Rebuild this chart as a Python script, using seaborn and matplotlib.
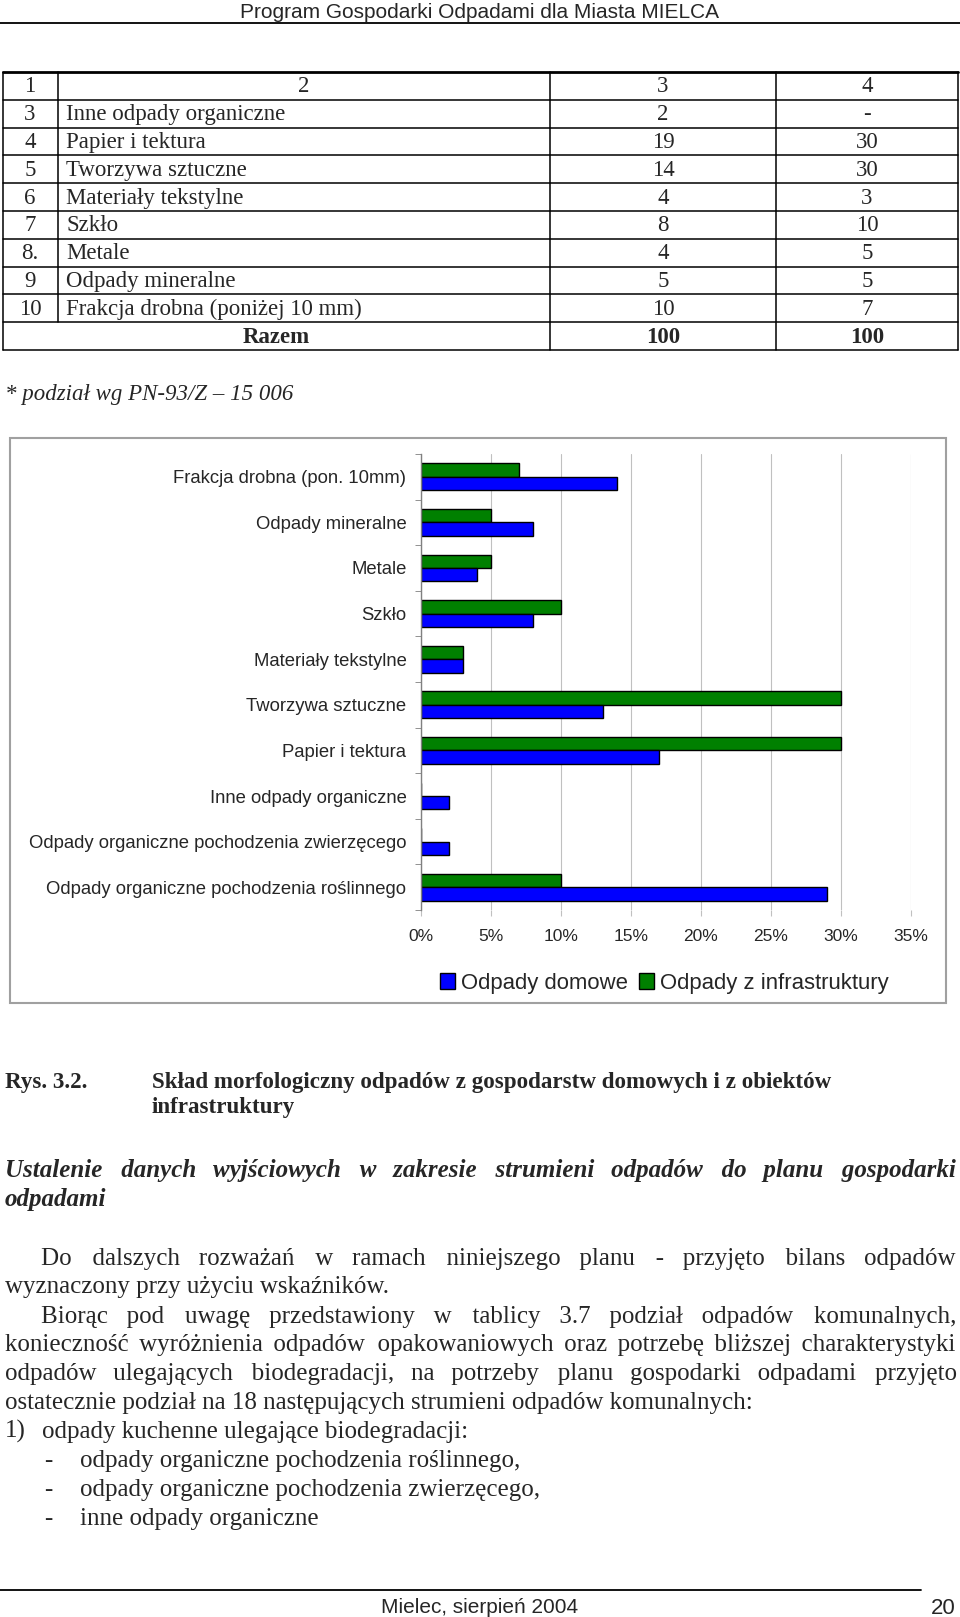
import numpy as np
import pandas as pd
import matplotlib
matplotlib.use("Agg")
import matplotlib.pyplot as plt
import seaborn as sns
from matplotlib.patches import Rectangle, Patch
from matplotlib.lines import Line2D

W, H = 960, 1617

# ------------------ CHART DATA ------------------
categories = [
    "Frakcja drobna (pon. 10mm)",
    "Odpady mineralne",
    "Metale",
    "Szkło",
    "Materiały tekstylne",
    "Tworzywa sztuczne",
    "Papier i tektura",
    "Inne odpady organiczne",
    "Odpady organiczne pochodzenia zwierzęcego",
    "Odpady organiczne pochodzenia roślinnego",
]
domowe = [14, 8, 4, 8, 3, 13, 17, 2, 2, 29]
infrastruktura = [7, 5, 5, 10, 3, 30, 30, 0, 0, 10]
series_names = ["Odpady domowe", "Odpady z infrastruktury"]
x_ticks = [0, 5, 10, 15, 20, 25, 30, 35]
x_tick_labels = ["0%", "5%", "10%", "15%", "20%", "25%", "30%", "35%"]

# ------------------ TABLE DATA ------------------
table_header = ["1", "2", "3", "4"]
table_lp = ["3", "4", "5", "6", "7", "8.", "9", "10"]
table_names = ["Inne odpady organiczne", "Papier i tektura", "Tworzywa sztuczne",
               "Materiały tekstylne", "Szkło", "Metale", "Odpady mineralne",
               "Frakcja drobna (poniżej 10 mm)"]
table_col3 = ["2", "19", "14", "4", "8", "4", "5", "10"]
table_col4 = ["-", "30", "30", "3", "10", "5", "5", "7"]
table_total = ["Razem", "100", "100"]

BLUE = "#0000ff"
GREEN = "#008000"
SERIF = ["Liberation Serif", "DejaVu Serif"]

sns.set_style("white")
plt.rcParams['font.family'] = ['Liberation Sans', 'DejaVu Sans']

fig = plt.figure(figsize=(W / 100, H / 100), dpi=100)
renderer = fig.canvas.get_renderer()


def fx(x):
    return x / W


def fy(y):
    return 1 - y / H


def txt(x, y, s, **kw):
    kw.setdefault('va', 'center_baseline')
    return fig.text(fx(x), fy(y), s, **kw)


def line(x0, x1, y0, y1, lw=1.0, color='black'):
    fig.add_artist(Line2D([fx(x0), fx(x1)], [fy(y0), fy(y1)], lw=lw,
                          color=color, transform=fig.transFigure))


def justify(s, x0, x1, y, **kw):
    # one text per line; gaps widened with spaces and hair spaces
    t = txt(x0, y, "", **kw)

    def width(u):
        t.set_text(u)
        return t.get_window_extent(renderer).width

    words = s.split()
    w_sp = width("a a") - width("aa")
    w_hs = max(width("a\u200aa") - width("aa"), 0.5)
    g = (x1 - x0 - sum(width(w) for w in words)) / (len(words) - 1)
    out, acc = words[0], 0.0
    for i, w in enumerate(words[1:], 1):
        need = g * i - acc
        ns = max(1, int(need // w_sp))
        nh = max(0, round((need - ns * w_sp) / w_hs))
        out += " " * ns + "\u200a" * nh + w
        acc += ns * w_sp + nh * w_hs
    t.set_text(out)


# ------------------ HEADER ------------------
txt(480, 11, "Program Gospodarki Odpadami dla Miasta MIELCA", ha='center', fontsize=15)
line(0, 960, 23, 23, lw=1.3)

# ------------------ TABLE ------------------
cols = [3, 58, 550, 776, 958]
t_top, pitch = 72, 27.8
n_rows = 2 + len(table_lp)
t_bot = t_top + pitch * n_rows
line(cols[0], cols[-1], t_top, t_top, lw=2)
for i in range(1, n_rows + 1):
    line(cols[0], cols[-1], t_top + pitch * i, t_top + pitch * i, lw=1.1)
for c in cols:
    if c == 58:
        line(c, c, t_top, t_bot - pitch, lw=1.1)
    else:
        line(c, c, t_top, t_bot, lw=1.1)

fs_t = 16.5
dy = -1.5
yc = t_top + pitch * 0.5 + dy
txt(30, yc, table_header[0], ha='center', family=SERIF, fontsize=fs_t)
txt(304, yc, table_header[1], ha='center', family=SERIF, fontsize=fs_t)
txt(663, yc, table_header[2], ha='center', family=SERIF, fontsize=fs_t)
txt(867, yc, table_header[3], ha='center', family=SERIF, fontsize=fs_t)
for i, (lp, name, c3, c4) in enumerate(zip(table_lp, table_names, table_col3, table_col4)):
    yc = t_top + pitch * (i + 1.5) + dy
    txt(30, yc, lp, ha='center', family=SERIF, fontsize=fs_t)
    txt(66, yc, name, ha='left', family=SERIF, fontsize=fs_t)
    txt(663, yc, c3, ha='center', family=SERIF, fontsize=fs_t)
    txt(867, yc, c4, ha='center', family=SERIF, fontsize=fs_t)
yc = t_top + pitch * (n_rows - 0.5) + dy
txt(276, yc, table_total[0], ha='center', family=SERIF, fontsize=fs_t, weight='bold')
txt(663, yc, table_total[1], ha='center', family=SERIF, fontsize=fs_t, weight='bold')
txt(867, yc, table_total[2], ha='center', family=SERIF, fontsize=fs_t, weight='bold')

txt(5, 392, "* podział wg PN-93/Z – 15 006", family=SERIF, fontsize=16.5, style='italic')

# ------------------ CHART ------------------
fig.add_artist(Rectangle((fx(10), fy(1003)), fx(936), (1003 - 438) / H,
                         transform=fig.transFigure, fill=False,
                         edgecolor='#a0a0a0', lw=1.5))

df = pd.DataFrame({
    "Kategoria": categories * 2,
    "Udział": infrastruktura + domowe,
    "Seria": [series_names[1]] * len(categories) + [series_names[0]] * len(categories),
})

ax = fig.add_axes([fx(421), fy(910), (910.5 - 421) / W, (910 - 454) / H])
sns.barplot(data=df, y="Kategoria", x="Udział", hue="Seria",
            hue_order=[series_names[1], series_names[0]],
            palette=[GREEN, BLUE], saturation=1, width=0.59,
            edgecolor='black', linewidth=1, orient='h',
            errorbar=None, legend=False, ax=ax)

ax.set_xlim(0, 35)
ax.set_ylim(9.5, -0.5)
ax.set_xticks(x_ticks)
ax.set_xticklabels(x_tick_labels)
ax.set_xlabel('')
ax.set_ylabel('')
ax.xaxis.grid(True, color='#c0c0c0', lw=0.8)
ax.yaxis.grid(False)
ax.set_axisbelow(True)
for s in ['top', 'right', 'bottom']:
    ax.spines[s].set_visible(False)
ax.spines['left'].set_color('#808080')
ax.spines['left'].set_linewidth(1)
ax.set_yticks(np.arange(-0.5, 10, 1), minor=True)
ax.tick_params(axis='y', which='major', length=0, pad=10.5, labelsize=13.3)
ax.tick_params(axis='y', which='minor', length=4, color='#808080', left=True)
ax.tick_params(axis='x', length=4, color='#c0c0c0', pad=9.5, labelsize=12.5, bottom=True)

handles = [Patch(facecolor=BLUE, edgecolor='black', lw=1, label=series_names[0]),
           Patch(facecolor=GREEN, edgecolor='black', lw=1, label=series_names[1])]
fig.legend(handles=handles, loc='center', bbox_to_anchor=(fx(664), fy(983)),
           ncol=2, frameon=False, fontsize=15.9, handlelength=0.7, handleheight=0.75,
           handletextpad=0.25, columnspacing=0.5)

# ------------------ CAPTION & TEXT ------------------
fs_c = 16.6
txt(5, 1080, "Rys. 3.2.", family=SERIF, fontsize=fs_c, weight='bold')
txt(152, 1080, "Skład morfologiczny odpadów z gospodarstw domowych i z obiektów",
    family=SERIF, fontsize=fs_c, weight='bold')
txt(152, 1105, "infrastruktury", family=SERIF, fontsize=fs_c, weight='bold')

fs_b = 18
justify("Ustalenie danych wyjściowych w zakresie strumieni odpadów do planu gospodarki",
        5, 956, 1168, family=SERIF, fontsize=fs_b, weight='bold', style='italic')
txt(5, 1197, "odpadami", family=SERIF, fontsize=fs_b, weight='bold', style='italic')

justify("Do dalszych rozważań w ramach niniejszego planu - przyjęto bilans odpadów",
        41, 956, 1256, family=SERIF, fontsize=fs_b)
txt(5, 1285, "wyznaczony przy użyciu wskaźników.", family=SERIF, fontsize=fs_b)
justify("Biorąc pod uwagę przedstawiony w tablicy 3.7 podział odpadów komunalnych,",
        41, 956, 1314, family=SERIF, fontsize=fs_b)
justify("konieczność wyróżnienia odpadów opakowaniowych oraz potrzebę bliższej charakterystyki",
        5, 956, 1342, family=SERIF, fontsize=fs_b)
justify("odpadów ulegających biodegradacji, na potrzeby planu gospodarki odpadami przyjęto",
        5, 956, 1371, family=SERIF, fontsize=fs_b)
txt(5, 1400, "ostatecznie podział na 18 następujących strumieni odpadów komunalnych:",
    family=SERIF, fontsize=fs_b)
txt(5, 1429, "1)", family=SERIF, fontsize=fs_b)
txt(42, 1429, "odpady kuchenne ulegające biodegradacji:", family=SERIF, fontsize=fs_b)
for yy, s in zip([1458, 1487, 1516],
                 ["odpady organiczne pochodzenia roślinnego,",
                  "odpady organiczne pochodzenia zwierzęcego,",
                  "inne odpady organiczne"]):
    txt(44, yy, "-", family=SERIF, fontsize=fs_b)
    txt(80, yy, s, family=SERIF, fontsize=fs_b)

# ------------------ FOOTER ------------------
line(0, 921, 1590, 1590, lw=1.3)
txt(480, 1605, "Mielec, sierpień 2004", ha='center', fontsize=15)
txt(956, 1606, "20", ha='right', fontsize=16)

fig.savefig("out.png", dpi=100)
